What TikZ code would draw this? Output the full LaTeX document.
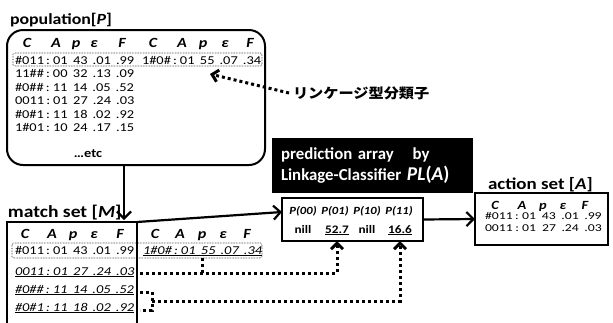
\documentclass[tikz,border=0pt]{standalone}
\usepackage{fontspec}
\usepackage{graphicx}
\setmainfont{Carlito}[FakeStretch=1.15]
\newfontfamily\tabfont{Carlito}
\newfontfamily\jafont{Noto Sans CJK JP}[FakeStretch=1.1]
\usetikzlibrary{arrows.meta}
% one classifier row: condition : action  prediction  error  fitness
\newcommand\crow[5]{#1\hspace{1.8pt}:\hspace{2.5pt}#2\hspace{4.5pt}#3\hspace{4.2pt}#4\hspace{4.2pt}#5}
\newcommand\wide[1]{\scalebox{1.2}[1]{#1}}
\newcommand\wider[1]{\scalebox{1.31}[1]{#1}}
\begin{document}
\begin{tikzpicture}[x=1pt,y=-1pt,
  every node/.style={inner sep=0pt, outer sep=0pt},
  frame/.style={draw, line width=2pt, anchor=north west},
  flow/.style={line width=2.2pt, -{Straight Barb[length=7pt,width=14pt]}},
  dots/.style={line width=3pt, dash pattern=on 3pt off 3pt},
  dotsarrow/.style={dots, -{Straight Barb[length=6pt,width=12pt]}},
  hilite/.style={draw, densely dotted, line width=0.6pt, rounded corners=1.5pt},
  ttl/.style={anchor=base west, font=\bfseries\fontsize{#1}{#1}\selectfont},
  hdr/.style={anchor=base, font=\bfseries\itshape\fontsize{14}{16}\selectfont},
  hdrs/.style={anchor=base, font=\bfseries\itshape\fontsize{12.5}{14}\selectfont},
  row/.style={anchor=base west, font=\tabfont\fontsize{12}{14}\selectfont},
  rowi/.style={anchor=base west, font=\tabfont\itshape\fontsize{12}{14}\selectfont},
  rows/.style={anchor=base west, font=\tabfont\fontsize{10.5}{12}\selectfont},
  plab/.style={anchor=base, font=\bfseries\itshape\fontsize{11}{12}\selectfont},
  pval/.style={anchor=base, font=\bfseries\fontsize{11.5}{12}\selectfont},
]
\useasboundingbox (0,0) rectangle (613,322);
\clip (0,0) rectangle (613,322);

% ---------- population ----------
\node[ttl=15.5] (ptitle) at (10,24) {population[\textit{P}]};
\node[frame, rounded corners=16pt, minimum width=258pt, minimum height=135pt] (pop) at (7,30) {};
\foreach \x/\t [count=\i] in {27/C,56/A,76/p,94/ε,122/F,153/C,182/A,203/p,225/ε,250/F}
  \node[hdr] (ph\i) at (\x,47.5) {\t};
\node[hilite, minimum width=249pt, minimum height=13pt, anchor=north west] (psel) at (13,53) {};
\node[row] (p1)  at (15,64)    {\wide{\crow{\#011}{01}{43}{.01}{.99}}};
\node[row] (p1b) at (142,64)   {\wide{\crow{1\#0\#}{01}{55}{.07}{.34}}};
\node[row] (p2)  at (15,77.5)  {\wide{\crow{11\#\#}{00}{32}{.13}{.09}}};
\node[row] (p3)  at (15,91)    {\wide{\crow{\#0\#\#}{11}{14}{.05}{.52}}};
\node[row] (p4)  at (15,104.5) {\wide{\crow{0011}{01}{27}{.24}{.03}}};
\node[row] (p5)  at (15,118)   {\wide{\crow{\#0\#1}{11}{18}{.02}{.92}}};
\node[row] (p6)  at (15,131.5) {\wide{\crow{1\#01}{10}{24}{.17}{.15}}};
\node[anchor=base, font=\bfseries\fontsize{12.5}{14}\selectfont] (etc) at (88,157) {…etc};

% linkage classifier label
\node[anchor=west, font=\jafont\bfseries\fontsize{13.8}{15}\selectfont] (ja) at (293,93) {リンケージ型分類子};
\coordinate (jt) at (210,74);
\draw[dotsarrow] ([xshift=-4pt]ja.west) -- (jt);

% ---------- match set ----------
\node[ttl=17] (mtitle) at (8,217) {match set [\textit{M}]};
\node[frame, minimum width=130pt, minimum height=130pt] (match) at (7,222) {};
\coordinate (ax) at (124,0);
\draw[flow] (pop.south -| ax) -- ([yshift=2pt]match.north -| ax);
\foreach \x/\t [count=\i] in {25/C,52/A,73/p,94/ε,120/F,155/C,180/A,202/p,223/ε,247/F}
  \node[hdr] (mh\i) at (\x,238) {\t};
\node[hilite, minimum width=250pt, minimum height=15pt, anchor=north west] (msel) at (12,243) {};
\node[row]  (m1)  at (15,254)  {\wide{\crow{\#011}{01}{43}{.01}{.99}}};
\node[rowi] (m1b) at (143,254) {\wide{\underline{\crow{1\#0\#}{01}{55}{.07}{.34}}}};
\node[rowi] (m2)  at (15,275)  {\wide{\underline{\crow{0011}{01}{27}{.24}{.03}}}};
\node[rowi] (m3)  at (15,293)  {\wide{\underline{\crow{\#0\#\#}{11}{14}{.05}{.52}}}};
\node[rowi] (m4)  at (15,311)  {\wide{\underline{\crow{\#0\#1}{11}{18}{.02}{.92}}}};

% ---------- prediction array ----------
\node[anchor=north west, fill=black, text=white, align=left, text width=183pt,
      inner xsep=9pt, minimum height=55pt,
      font=\tabfont\bfseries\fontsize{16.8}{21.5}\selectfont] (parr) at (272,138)
  {prediction array\hspace{19pt}by\\Linkage-Classifier {\fontsize{19.5}{21.5}\selectfont\textit{PL}(\textit{A})}};
\node[frame, minimum width=141pt, minimum height=43pt] (pred) at (282,198) {};
\foreach \x/\t [count=\i] in {303/00,335/01,367/10,399/11}
  \node[plab] (h\i) at (\x,214) {P(\t)};
\node[pval] (n00) at (303,233) {nill};
\node[pval] (n01) at (337,233) {\underline{52.7}};
\node[pval] (n10) at (367,233) {nill};
\node[pval] (n11) at (400,233) {\underline{16.6}};
\coordinate (pin) at (280,212);
\draw[flow] (match.north east) -- (pred.west |- pin);

% ---------- action set ----------
\node[ttl=16.5] (atitle) at (488,189) {action set [\textit{A}]};
\node[frame, minimum width=133pt, minimum height=52pt] (act) at (475,193) {};
\draw[flow] (pred.east) -- (act.west);
\foreach \x/\t [count=\i] in {495/C,522/A,543/p,563/ε,585/F}
  \node[hdrs] (ah\i) at (\x,209.5) {\t};
\node[rows] (a1) at (485,219)   {\wider{\crow{\#011}{01}{43}{.01}{.99}}};
\node[rows] (a2) at (485,231.5) {\wider{\crow{0011}{01}{27}{.24}{.03}}};

% ---------- dotted links from the match set to the prediction array ----------
\coordinate (d1) at (140,273);
\coordinate (d55) at (202,258);
\draw[dotsarrow] (d1) -| (n01 |- pred.south);
\draw[dots] (d55) -- (d55 |- d1);
\coordinate (b1) at (140,292);
\coordinate (b2) at (140,310);
\coordinate (bm) at (152,301);
\draw[dots] (b1) -| (bm |- b2) -- (b2);
\draw[dotsarrow] (bm) -| (n11 |- pred.south);
\end{tikzpicture}
\end{document}
